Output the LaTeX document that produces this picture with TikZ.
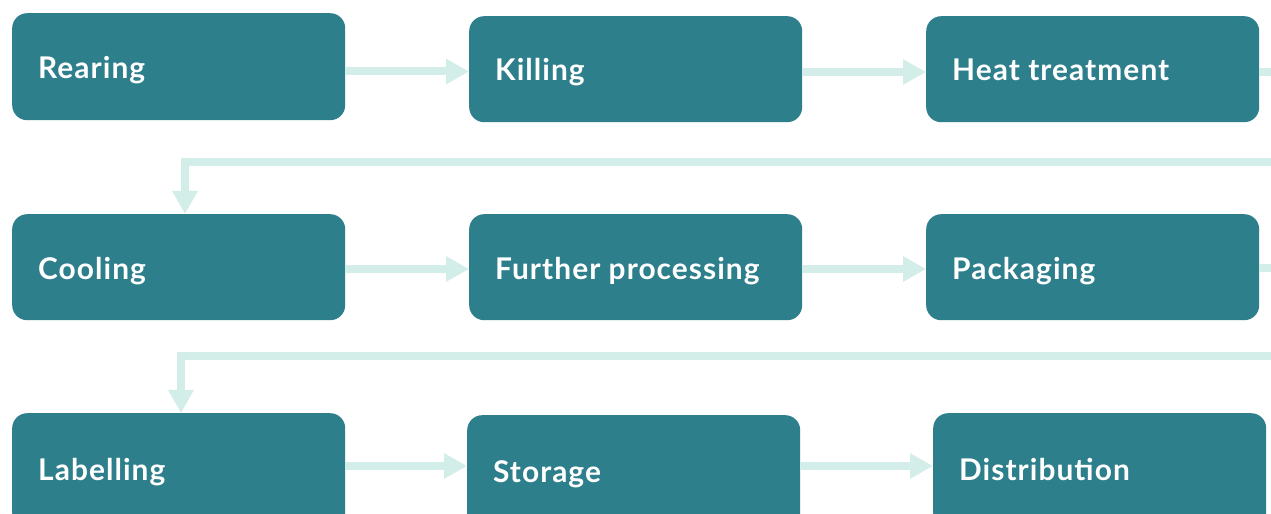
\documentclass[tikz,border=0pt]{standalone}
\usepackage{fontspec}
\setmainfont{Lato}[LetterSpace=3.5]
\usetikzlibrary{arrows.meta}
\definecolor{boxc}{HTML}{2E7F8C}
\definecolor{arrc}{HTML}{D3EDE9}
\tikzset{
  stepbox/.style={fill=boxc, rounded corners=15bp, draw=none, inner sep=0pt, anchor=north west, minimum width=333bp, minimum height=107bp},
  lbl/.style={text=white, anchor=base west, inner sep=0pt, font=\fontsize{30}{35}\selectfont\bfseries},
  conn/.style={draw=arrc, line width=8bp, line join=miter, -{Triangle[width=24bp,length=23bp]}}
}
\begin{document}
\begin{tikzpicture}[x=1bp,y=-1bp]
\useasboundingbox (0,0) rectangle (1271,514);
\clip (0,0) rectangle (1271,514);
\fill[white] (0,0) rectangle (1271,514);
% boxes
\node[stepbox] (rear) at (12,13) {};
\node[stepbox, minimum height=106bp] (kill) at (469,16) {};
\node[stepbox, minimum height=106bp] (heat) at (926,16) {};
\node[stepbox, minimum height=106bp] (cool) at (12,214) {};
\node[stepbox, minimum height=106bp] (furt) at (469,214) {};
\node[stepbox, minimum height=106bp] (pack) at (926,214) {};
\node[stepbox, minimum height=115bp] (labl) at (12,413) {};
\node[stepbox, minimum height=115bp] (stor) at (467,415) {};
\node[stepbox, minimum height=115bp] (dist) at (933,413) {};
% labels
\node[lbl] (trear) at (38,79) {Rearing};
\node[lbl] (tkill) at (495,81) {Killing};
\node[lbl] (theat) at (952,81) {Heat treatment};
\node[lbl] (tcool) at (38,280) {Cooling};
\node[lbl] (tfurt) at (495,280) {Further processing};
\node[lbl] (tpack) at (952,280) {Packaging};
\node[lbl] (tlabl) at (38,480) {Labelling};
\node[lbl] (tstor) at (493,482) {Storage};
\node[lbl] (tdist) at (959,480) {Distribution};
% connectors
\coordinate (r1) at (1290,72);
\coordinate (r2) at (1290,162);
\coordinate (r3) at (1290,268);
\coordinate (r4) at (1290,356);
\draw[conn] (rear.east |- 0,71.5) -- (kill.west |- 0,71.5);
\draw[conn] (kill.east |- 0,72) -- (heat.west |- 0,72);
\draw[conn] (heat.east |- 0,72) -- (r1) -- (r2) -- (185,162) -- (cool.north -| 185,0);
\draw[conn] (cool.east |- 0,269) -- (furt.west |- 0,269);
\draw[conn] (furt.east |- 0,269) -- (pack.west |- 0,269);
\draw[conn] (pack.east |- 0,268) -- (r3) -- (r4) -- (181,356) -- (labl.north -| 181,0);
\draw[conn] (labl.east |- 0,466) -- (stor.west |- 0,466);
\draw[conn] (stor.east |- 0,466) -- (dist.west |- 0,466);
\end{tikzpicture}
\end{document}
